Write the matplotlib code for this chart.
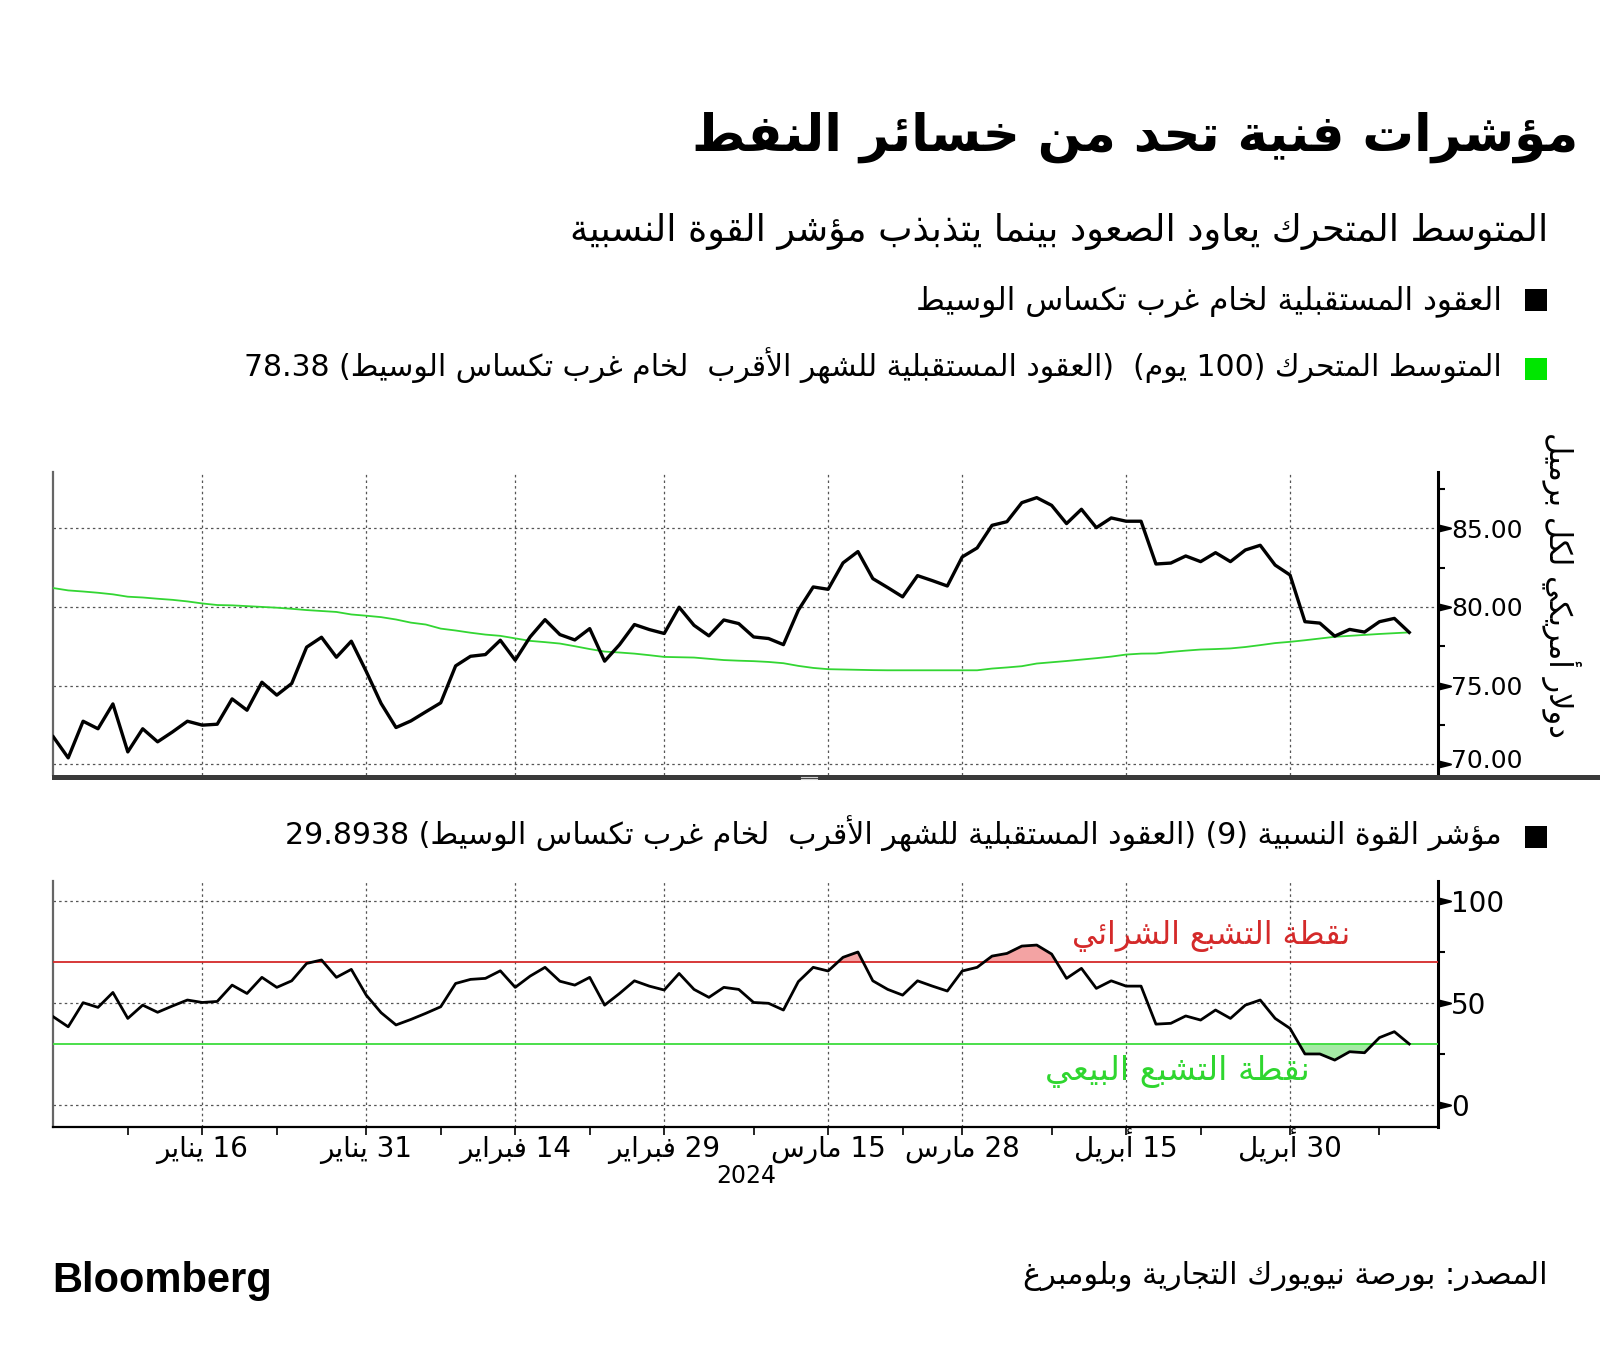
import re
import numpy as np
import pandas as pd
import matplotlib
matplotlib.use("Agg")
import matplotlib.pyplot as plt
from matplotlib.patches import Rectangle
from matplotlib.lines import Line2D
from matplotlib.path import Path
from matplotlib.ticker import FixedLocator, NullFormatter
from matplotlib.transforms import ScaledTranslation

W, H = 1600, 1357
plt.rcParams["font.family"] = ["DejaVu Sans"]

# ---- data ----
dates = pd.bdate_range("2023-12-29", "2024-05-10", freq="C",
                       holidays=["2024-01-01", "2024-01-15", "2024-02-19", "2024-03-29"])

wti = [71.74, 70.40, 72.73, 72.25, 73.83, 70.78, 72.25, 71.42, 72.05, 72.73,
       72.48, 72.54, 74.15, 73.43, 75.21, 74.39, 75.13, 77.44, 78.07, 76.80,
       77.82, 75.90, 73.86, 72.33, 72.75, 73.33, 73.90, 76.25, 76.86, 76.97,
       77.88, 76.61, 78.09, 79.19, 78.24, 77.90, 78.62, 76.55, 77.60, 78.88,
       78.56, 78.31, 79.98, 78.83, 78.16, 79.17, 78.94, 78.09, 77.99, 77.60,
       79.79, 81.27, 81.12, 82.80, 83.52, 81.80, 81.23, 80.64, 81.99, 81.67,
       81.33, 83.18, 83.75, 85.19, 85.42, 86.63, 86.95, 86.46, 85.30, 86.21,
       85.04, 85.66, 85.45, 85.45, 82.73, 82.79, 83.24, 82.88, 83.45, 82.88,
       83.62, 83.92, 82.66, 82.03, 79.06, 78.97, 78.14, 78.57, 78.40, 79.06,
       79.27, 78.38]

ma100 = [81.20, 81.05, 80.98, 80.90, 80.80, 80.65, 80.60, 80.52, 80.45, 80.35,
         80.22, 80.12, 80.10, 80.05, 80.00, 79.95, 79.88, 79.80, 79.74, 79.68,
         79.52, 79.44, 79.35, 79.20, 79.00, 78.88, 78.62, 78.50, 78.36, 78.24,
         78.16, 78.00, 77.84, 77.76, 77.67, 77.50, 77.32, 77.16, 77.10, 77.03,
         76.93, 76.82, 76.80, 76.78, 76.70, 76.62, 76.58, 76.55, 76.50, 76.42,
         76.25, 76.12, 76.04, 76.02, 76.00, 75.98, 75.97, 75.97, 75.97, 75.97,
         75.97, 75.97, 75.97, 76.08, 76.15, 76.23, 76.40, 76.48, 76.56, 76.65,
         76.74, 76.84, 76.97, 77.03, 77.04, 77.14, 77.22, 77.29, 77.32, 77.36,
         77.45, 77.57, 77.70, 77.78, 77.88, 77.99, 78.10, 78.16, 78.22, 78.28,
         78.33, 78.38]

rsi = [43.2, 38.3, 50.1, 47.8, 55.1, 42.4, 48.9, 45.4, 48.5, 51.4,
       50.2, 50.7, 58.7, 54.6, 62.5, 57.6, 60.8, 69.3, 71.0, 62.5,
       66.4, 53.8, 45.2, 39.2, 41.9, 44.9, 48.1, 59.5, 61.5, 62.0,
       65.7, 57.6, 63.1, 67.4, 60.6, 58.7, 62.5, 48.9, 54.6, 60.8,
       58.2, 56.3, 64.4, 56.6, 52.7, 57.6, 56.6, 50.2, 49.8, 46.5,
       60.4, 67.4, 65.6, 72.3, 74.9, 60.8, 56.6, 53.8, 60.8, 58.2,
       55.8, 65.6, 67.4, 72.9, 74.2, 77.8, 78.3, 73.9, 62.0, 66.9,
       57.1, 60.8, 58.2, 58.2, 39.6, 40.0, 43.6, 41.6, 46.5, 42.4,
       48.9, 51.4, 42.4, 37.5, 25.0, 25.0, 22.0, 26.1, 25.6, 33.0,
       35.9, 29.89]

tick_dates = ["2024-01-16", "2024-01-31", "2024-02-14", "2024-02-29",
              "2024-03-15", "2024-03-28", "2024-04-15", "2024-04-30"]
tick_labels = ["16 يناير", "31 يناير", "14 فبراير", "29 فبراير",
               "15 مارس", "28 مارس", "15 أبريل", "30 أبريل"]
minor_dates = ["2024-01-08", "2024-01-23", "2024-02-07", "2024-02-22", "2024-03-08",
               "2024-03-22", "2024-04-08", "2024-04-22", "2024-05-08"]
price_ticks = [70, 75, 80, 85]
price_minor = [72.5, 77.5, 82.5, 87.5]
rsi_ticks = [0, 50, 100]
rsi_minor = [25, 75]
overbought, oversold = 70, 30

# ---- minimal Arabic shaping (matplotlib has no complex text layout) ----
_F = {
    "ا": "\ufe8d\ufe8e", "أ": "\ufe83\ufe84", "إ": "\ufe87\ufe88", "آ": "\ufe81\ufe82",
    "ؤ": "\ufe85\ufe86", "ئ": "\ufe89\ufe8a\ufe8b\ufe8c", "ب": "\ufe8f\ufe90\ufe91\ufe92",
    "ة": "\ufe93\ufe94", "ت": "\ufe95\ufe96\ufe97\ufe98", "ث": "\ufe99\ufe9a\ufe9b\ufe9c",
    "ج": "\ufe9d\ufe9e\ufe9f\ufea0", "ح": "\ufea1\ufea2\ufea3\ufea4", "خ": "\ufea5\ufea6\ufea7\ufea8",
    "د": "\ufea9\ufeaa", "ذ": "\ufeab\ufeac", "ر": "\ufead\ufeae", "ز": "\ufeaf\ufeb0",
    "س": "\ufeb1\ufeb2\ufeb3\ufeb4", "ش": "\ufeb5\ufeb6\ufeb7\ufeb8", "ص": "\ufeb9\ufeba\ufebb\ufebc",
    "ض": "\ufebd\ufebe\ufebf\ufec0", "ط": "\ufec1\ufec2\ufec3\ufec4", "ظ": "\ufec5\ufec6\ufec7\ufec8",
    "ع": "\ufec9\ufeca\ufecb\ufecc", "غ": "\ufecd\ufece\ufecf\ufed0", "ف": "\ufed1\ufed2\ufed3\ufed4",
    "ق": "\ufed5\ufed6\ufed7\ufed8", "ك": "\ufed9\ufeda\ufedb\ufedc", "ل": "\ufedd\ufede\ufedf\ufee0",
    "م": "\ufee1\ufee2\ufee3\ufee4", "ن": "\ufee5\ufee6\ufee7\ufee8", "ه": "\ufee9\ufeea\ufeeb\ufeec",
    "و": "\ufeed\ufeee", "ى": "\ufeef\ufef0", "ي": "\ufef1\ufef2\ufef3\ufef4",
}
_LA = {"آ": "\ufef5\ufef6", "أ": "\ufef7\ufef8", "إ": "\ufef9\ufefa", "ا": "\ufefb\ufefc"}


def shape(s):
    out, i = [], 0
    while i < len(s):
        c = s[i]
        if c not in _F:
            out.append(c)
            i += 1
            continue
        prev = s[i - 1] if i > 0 else ""
        jp = prev in _F and len(_F[prev]) == 4
        if c == "ل" and i + 1 < len(s) and s[i + 1] in _LA:
            out.append(_LA[s[i + 1]][1 if jp else 0])
            i += 2
            continue
        nxt = s[i + 1] if i + 1 < len(s) else ""
        f = _F[c]
        jn = len(f) == 4 and nxt in _F
        if jp and jn:
            out.append(f[3])
        elif jp:
            out.append(f[1])
        elif jn:
            out.append(f[2])
        else:
            out.append(f[0])
        i += 1
    return "".join(out)


def ar(s):
    v = shape(s)[::-1].translate(str.maketrans("()", ")("))
    return re.sub(r"[0-9][0-9.]*[0-9]|[0-9]", lambda m: m.group(0)[::-1], v)


def fx(px):
    return px / W


def fy(py):
    return 1 - py / H


x = np.arange(len(dates))
wti = np.array(wti)
ma100 = np.array(ma100)
rsi = np.array(rsi)
major_pos = dates.get_indexer(pd.to_datetime(tick_dates))
minor_pos = dates.get_indexer(pd.to_datetime(minor_dates))

fig = plt.figure(figsize=(W / 100, H / 100), dpi=100)
fig.patch.set_facecolor("white")

ax1 = fig.add_axes([fx(53.3), fy(775), fx(1438.3) - fx(53.3), fy(471.7) - fy(775)])
ax2 = fig.add_axes([fx(53.3), fy(1126.7), fx(1438.3) - fx(53.3), fy(880.7) - fy(1126.7)])

grid_kw = dict(color="#555555", lw=0.9, ls=(0, (2, 2.5)))
tri = Path([(0, -0.25), (1, 0), (0, 0.25), (0, -0.25)],
           [Path.MOVETO, Path.LINETO, Path.LINETO, Path.CLOSEPOLY])

for ax in (ax1, ax2):
    ax.set_xlim(0, 92.95)
    ax.spines["top"].set_visible(False)
    ax.spines["left"].set_color("#666666")
    ax.spines["left"].set_linestyle((0, (1.5, 1)))
    ax.spines["left"].set_linewidth(1.6)
    ax.spines["right"].set_color("black")
    ax.spines["right"].set_linewidth(2.2)
    ax.xaxis.set_major_locator(FixedLocator(major_pos))
    ax.xaxis.set_minor_locator(FixedLocator(minor_pos))
    ax.yaxis.tick_right()
    ax.grid(True, which="major", **grid_kw)
    ax.set_axisbelow(True)

# ---- price panel ----
ax1.set_ylim(69.31, 88.6)
ax1.plot(x, ma100, color="#33d633", lw=1.3, zorder=3)
ax1.plot(x, wti, color="black", lw=2.4, zorder=4)
ax1.spines["bottom"].set_visible(False)
ax1.tick_params(axis="x", which="both", length=0, labelbottom=False)
ax1.yaxis.set_major_locator(FixedLocator(price_ticks))
ax1.yaxis.set_minor_locator(FixedLocator(price_minor))
ax1.set_yticklabels([f"{v:.2f}" for v in price_ticks])
ax1.tick_params(axis="y", which="major", labelsize=18, pad=3, length=6, width=1.5)
ax1.tick_params(axis="y", which="minor", length=5, width=1.5)

# ---- RSI panel ----
ax2.set_ylim(-10.6, 109.8)
ax2.fill_between(x, rsi, overbought, where=rsi >= overbought, interpolate=True,
                 color="#f3a3a3", lw=0, zorder=2)
ax2.fill_between(x, rsi, oversold, where=rsi <= oversold, interpolate=True,
                 color="#a5eaa5", lw=0, zorder=2)
ax2.axhline(overbought, color="#d42a2a", lw=1.3, zorder=3)
ax2.axhline(oversold, color="#3ddc3d", lw=1.3, zorder=3)
ax2.plot(x, rsi, color="black", lw=2.0, zorder=4)
ax2.spines["bottom"].set_linewidth(1.6)
ax2.yaxis.set_major_locator(FixedLocator(rsi_ticks))
ax2.yaxis.set_minor_locator(FixedLocator(rsi_minor))
ax2.set_yticklabels([str(v) for v in rsi_ticks])
ax2.tick_params(axis="y", which="major", labelsize=20, pad=3, length=6, width=1.5)
ax2.tick_params(axis="y", which="minor", length=5, width=1.5)
ax2.set_xticklabels([ar(t) for t in tick_labels])
ax2.xaxis.set_minor_formatter(NullFormatter())
ax2.tick_params(axis="x", which="both", length=6, width=1.2, labelsize=20, pad=16)
for lab in ax2.get_xticklabels():
    lab.set_verticalalignment("baseline")

# arrow-shaped major y ticks
for ax in (ax1, ax2):
    for t in ax.yaxis.get_major_ticks():
        t.tick2line.set_marker(tri)
        t.tick2line.set_markersize(18)

# lowest price label sits a little above its tick, as in the original
low_lab = ax1.yaxis.get_major_ticks()[0].label2
low_lab.set_transform(low_lab.get_transform() + ScaledTranslation(0, 0.06, fig.dpi_scale_trans))

# panel separator bar
fig.add_artist(Rectangle((fx(52), fy(780)), fx(1600) - fx(52), 5 / H,
                         transform=fig.transFigure, color="#3a3a3a", lw=0))
for yy in (776.8, 778.6):
    fig.add_artist(Line2D([fx(801), fx(817)], [fy(yy), fy(yy)],
                          transform=fig.transFigure, color="#cfcfcf", lw=0.8))

# ---- texts ----
fig.text(fx(1578), fy(137), ar("مؤشرات فنية تحد من خسائر النفط"),
         ha="right", va="center", fontsize=37, fontweight="bold")
fig.text(fx(1548), fy(231), ar("المتوسط المتحرك يعاود الصعود بينما يتذبذب مؤشر القوة النسبية"),
         ha="right", va="center", fontsize=26.3)
fig.text(fx(1502), fy(301), ar("العقود المستقبلية لخام غرب تكساس الوسيط"),
         ha="right", va="center", fontsize=22.4)
fig.text(fx(1502), fy(366),
         ar("المتوسط المتحرك (100 يوم)  (العقود المستقبلية للشهر الأقرب  لخام غرب تكساس الوسيط) 78.38"),
         ha="right", va="center", fontsize=21.5)
fig.text(fx(1502), fy(834),
         ar("مؤشر القوة النسبية (9) (العقود المستقبلية للشهر الأقرب  لخام غرب تكساس الوسيط) 29.8938"),
         ha="right", va="center", fontsize=21.6)
for yy, col in ((289, "black"), (358, "#00e600"), (826, "black")):
    fig.add_artist(Rectangle((fx(1525), fy(yy + 22)), 22 / W, 22 / H,
                             transform=fig.transFigure, color=col, lw=0))

fig.text(fx(1561), fy(585), ar("دولار أمريكي لكل برميل"), rotation=-90,
         ha="center", va="center", fontsize=22)
fig.text(fx(1350), fy(936), ar("نقطة التشبع الشرائي"), color="#d42a2a",
         ha="right", va="center", fontsize=22.7)
fig.text(fx(1310), fy(1072), ar("نقطة التشبع البيعي"), color="#2fd62f",
         ha="right", va="center", fontsize=24)
fig.text(fx(746), fy(1176), "2024", ha="center", va="center", fontsize=17)

fig.text(fx(52), fy(1281), "Bloomberg", ha="left", va="center", fontsize=30,
         fontweight="bold", family=["Liberation Sans", "DejaVu Sans"])
fig.text(fx(1548), fy(1276), ar("المصدر: بورصة نيويورك التجارية وبلومبرغ"),
         ha="right", va="center", fontsize=21.9)

fig.savefig("out.png", dpi=100, facecolor="white")
